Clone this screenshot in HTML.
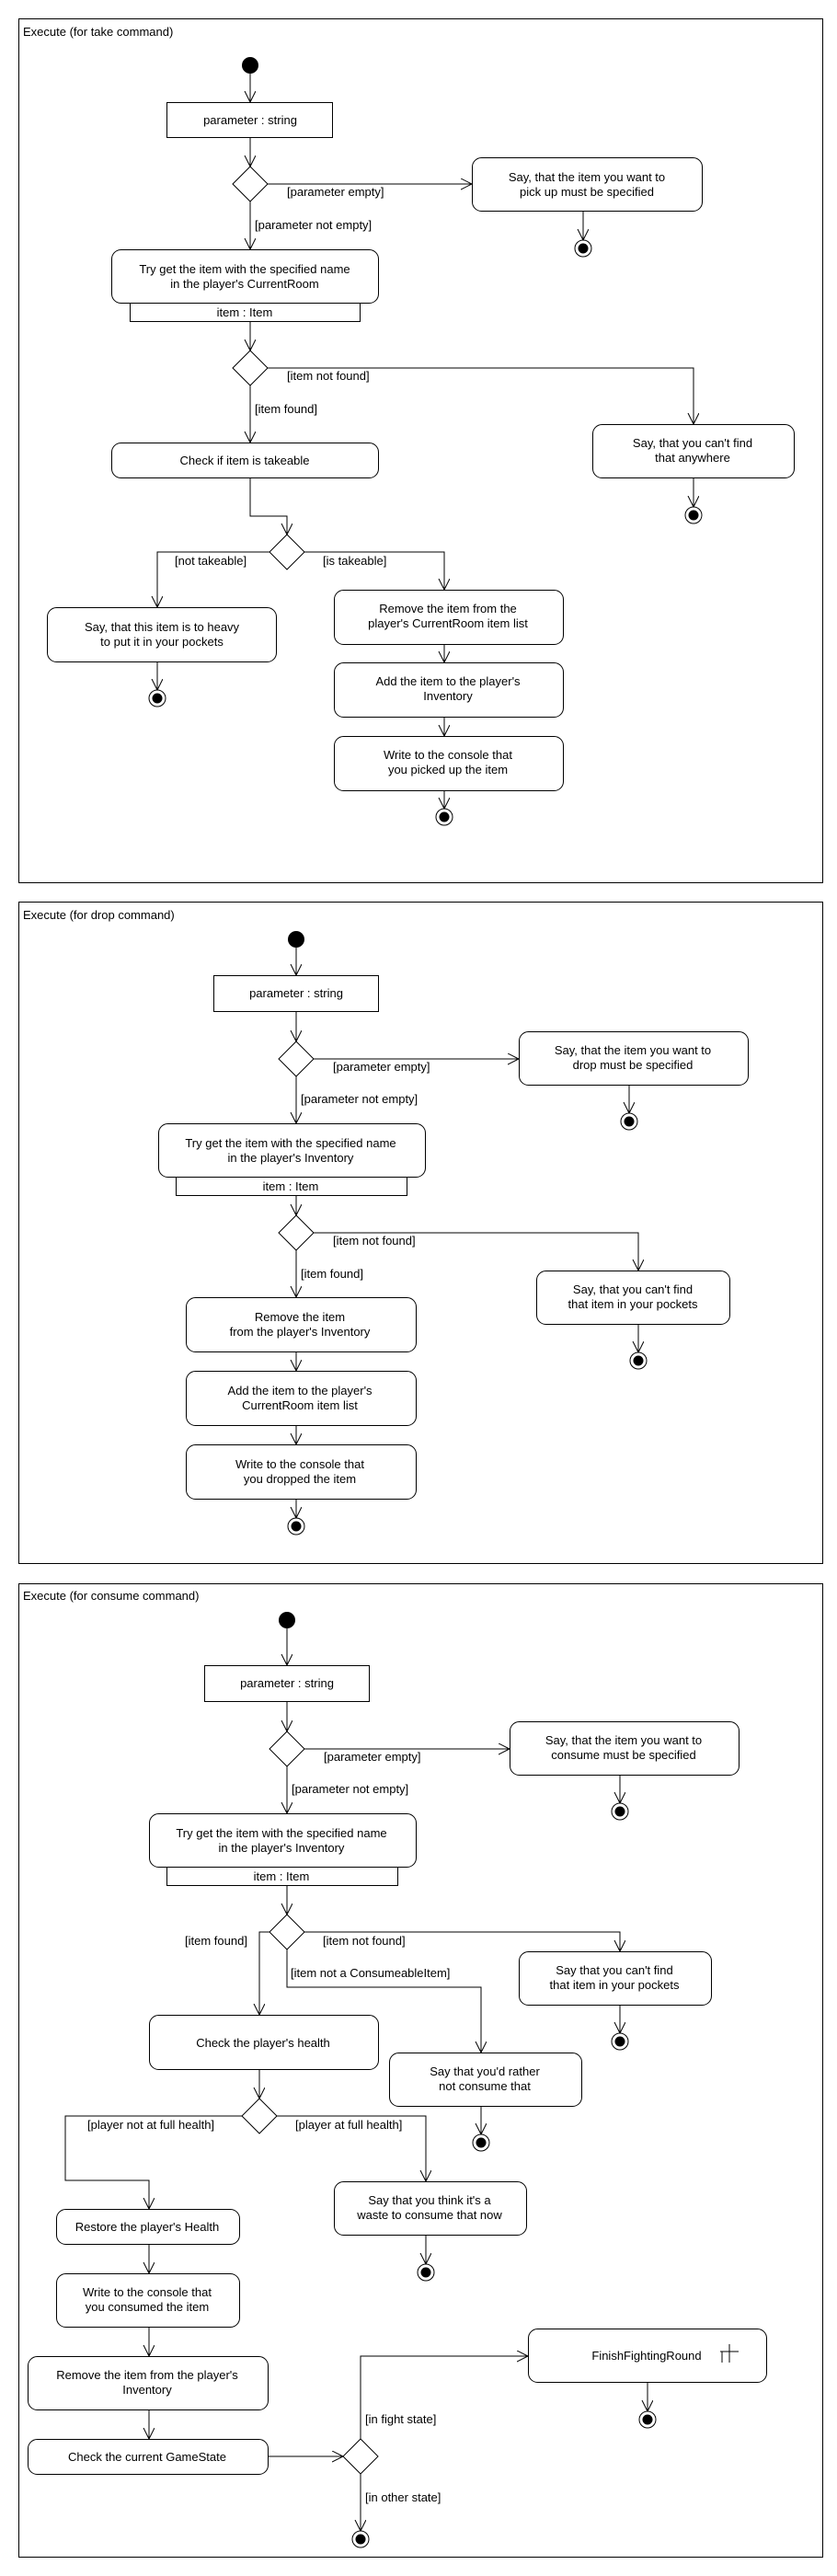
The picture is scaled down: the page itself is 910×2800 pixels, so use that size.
<!DOCTYPE html>
<html><head><meta charset="utf-8"><style>
html,body{margin:0;padding:0;background:#fff}
svg{display:block}
text{font-family:"Liberation Sans",Arial,sans-serif;font-size:13px;fill:#000}
.c{text-anchor:middle}
.s{fill:none;stroke:#000;stroke-width:1}
</style></head><body>
<svg width="910" height="2800" viewBox="0 0 910 2800" xmlns="http://www.w3.org/2000/svg">
<defs>
<marker id="a" markerUnits="userSpaceOnUse" markerWidth="14" markerHeight="14" refX="12" refY="6" orient="auto">
<path d="M0,0 L12,6 L0,12" fill="none" stroke="#000" stroke-width="1"/>
</marker>
</defs>
<g class="s">
<!-- Frame 1 -->
<rect x="20.5" y="20.5" width="874" height="939"/>
<line x1="272" y1="80" x2="272" y2="111" marker-end="url(#a)"/>
<rect x="181.5" y="111.5" width="180" height="38"/>
<line x1="272" y1="149" x2="272" y2="181" marker-end="url(#a)"/>
<path d="M272,181 L291,200 L272,219 L253,200 Z"/>
<line x1="291" y1="200" x2="513" y2="200" marker-end="url(#a)"/>
<rect x="513.5" y="171.5" width="250" height="58" rx="10"/>
<line x1="634" y1="229" x2="634" y2="261" marker-end="url(#a)"/>
<line x1="272" y1="219" x2="272" y2="271" marker-end="url(#a)"/>
<rect x="121.5" y="271.5" width="290" height="58" rx="10"/>
<rect x="141.5" y="329.5" width="250" height="20"/>
<line x1="272" y1="349" x2="272" y2="381" marker-end="url(#a)"/>
<path d="M272,381 L291,400 L272,419 L253,400 Z"/>
<polyline points="291,400 754,400 754,461" marker-end="url(#a)"/>
<line x1="272" y1="419" x2="272" y2="481" marker-end="url(#a)"/>
<rect x="121.5" y="481.5" width="290" height="38" rx="10"/>
<rect x="644.5" y="461.5" width="219" height="58" rx="10"/>
<line x1="754" y1="519" x2="754" y2="551" marker-end="url(#a)"/>
<polyline points="272,519 272,561 312,561 312,581" marker-end="url(#a)"/>
<path d="M312,581 L331,600 L312,619 L293,600 Z"/>
<polyline points="293,600 171,600 171,660" marker-end="url(#a)"/>
<rect x="51.5" y="660.5" width="249" height="59" rx="10"/>
<line x1="171" y1="719" x2="171" y2="750" marker-end="url(#a)"/>
<polyline points="331,600 483,600 483,641" marker-end="url(#a)"/>
<rect x="363.5" y="641.5" width="249" height="59" rx="10"/>
<line x1="483" y1="700" x2="483" y2="720" marker-end="url(#a)"/>
<rect x="363.5" y="720.5" width="249" height="59" rx="10"/>
<line x1="483" y1="779" x2="483" y2="800" marker-end="url(#a)"/>
<rect x="363.5" y="800.5" width="249" height="59" rx="10"/>
<line x1="483" y1="859" x2="483" y2="879" marker-end="url(#a)"/>

<!-- Frame 2 -->
<rect x="20.5" y="980.5" width="874" height="719"/>
<line x1="322" y1="1030" x2="322" y2="1060" marker-end="url(#a)"/>
<rect x="232.5" y="1060.5" width="179" height="39"/>
<line x1="322" y1="1099" x2="322" y2="1132" marker-end="url(#a)"/>
<path d="M322,1132 L341,1151 L322,1170 L303,1151 Z"/>
<line x1="341" y1="1151" x2="564" y2="1151" marker-end="url(#a)"/>
<rect x="564.5" y="1121.5" width="249" height="58" rx="10"/>
<line x1="684" y1="1179" x2="684" y2="1210" marker-end="url(#a)"/>
<line x1="322" y1="1170" x2="322" y2="1221" marker-end="url(#a)"/>
<rect x="172.5" y="1221.5" width="290" height="58" rx="10"/>
<rect x="191.5" y="1279.5" width="251" height="20"/>
<line x1="322" y1="1299" x2="322" y2="1321" marker-end="url(#a)"/>
<path d="M322,1321 L341,1340 L322,1359 L303,1340 Z"/>
<polyline points="341,1340 694,1340 694,1381" marker-end="url(#a)"/>
<line x1="322" y1="1359" x2="322" y2="1410" marker-end="url(#a)"/>
<rect x="583.5" y="1381.5" width="210" height="58" rx="10"/>
<line x1="694" y1="1439" x2="694" y2="1470" marker-end="url(#a)"/>
<rect x="202.5" y="1410.5" width="250" height="59" rx="10"/>
<line x1="322" y1="1469" x2="322" y2="1490" marker-end="url(#a)"/>
<rect x="202.5" y="1490.5" width="250" height="59" rx="10"/>
<line x1="322" y1="1549" x2="322" y2="1570" marker-end="url(#a)"/>
<rect x="202.5" y="1570.5" width="250" height="59" rx="10"/>
<line x1="322" y1="1629" x2="322" y2="1650" marker-end="url(#a)"/>

<!-- Frame 3 -->
<rect x="20.5" y="1721.5" width="874" height="1058"/>
<line x1="312" y1="1770" x2="312" y2="1810" marker-end="url(#a)"/>
<rect x="222.5" y="1810.5" width="179" height="39"/>
<line x1="312" y1="1849" x2="312" y2="1882" marker-end="url(#a)"/>
<path d="M312,1882 L331,1901 L312,1920 L293,1901 Z"/>
<line x1="331" y1="1901" x2="554" y2="1901" marker-end="url(#a)"/>
<rect x="554.5" y="1871.5" width="249" height="58" rx="10"/>
<line x1="674" y1="1929" x2="674" y2="1960" marker-end="url(#a)"/>
<line x1="312" y1="1920" x2="312" y2="1971" marker-end="url(#a)"/>
<rect x="162.5" y="1971.5" width="290" height="58" rx="10"/>
<rect x="181.5" y="2029.5" width="251" height="20"/>
<line x1="312" y1="2049" x2="312" y2="2081" marker-end="url(#a)"/>
<path d="M312,2081 L331,2100 L312,2119 L293,2100 Z"/>
<polyline points="293,2100 282,2100 282,2190" marker-end="url(#a)"/>
<polyline points="331,2100 674,2100 674,2121" marker-end="url(#a)"/>
<polyline points="312,2119 312,2160 523,2160 523,2231" marker-end="url(#a)"/>
<rect x="564.5" y="2121.5" width="209" height="58" rx="10"/>
<line x1="674" y1="2179" x2="674" y2="2210" marker-end="url(#a)"/>
<rect x="162.5" y="2190.5" width="249" height="59" rx="10"/>
<line x1="282" y1="2249" x2="282" y2="2281" marker-end="url(#a)"/>
<path d="M282,2281 L301,2300 L282,2319 L263,2300 Z"/>
<rect x="423.5" y="2231.5" width="209" height="58" rx="10"/>
<line x1="523" y1="2289" x2="523" y2="2320" marker-end="url(#a)"/>
<polyline points="263,2300 71,2300 71,2370 162,2370 162,2401" marker-end="url(#a)"/>
<polyline points="301,2300 463,2300 463,2371" marker-end="url(#a)"/>
<rect x="363.5" y="2371.5" width="209" height="58" rx="10"/>
<line x1="463" y1="2429" x2="463" y2="2461" marker-end="url(#a)"/>
<rect x="61.5" y="2401.5" width="199" height="38" rx="10"/>
<line x1="162" y1="2439" x2="162" y2="2471" marker-end="url(#a)"/>
<rect x="61.5" y="2471.5" width="199" height="58" rx="10"/>
<line x1="162" y1="2529" x2="162" y2="2561" marker-end="url(#a)"/>
<rect x="30.5" y="2561.5" width="261" height="58" rx="10"/>
<line x1="162" y1="2619" x2="162" y2="2651" marker-end="url(#a)"/>
<rect x="30.5" y="2651.5" width="261" height="38" rx="10"/>
<line x1="291" y1="2670" x2="373" y2="2670" marker-end="url(#a)"/>
<path d="M392,2651 L411,2670 L392,2689 L373,2670 Z"/>
<polyline points="392,2651 392,2561 574,2561" marker-end="url(#a)"/>
<rect x="574.5" y="2531.5" width="259" height="58" rx="10"/>
<path d="M783,2556 L803,2556 M793,2548 L793,2568 M785,2556 L785,2568"/>
<line x1="704" y1="2589" x2="704" y2="2621" marker-end="url(#a)"/>
<line x1="392" y1="2689" x2="392" y2="2751" marker-end="url(#a)"/>
</g>

<!-- start nodes -->
<circle cx="272" cy="71" r="9" fill="#000"/>
<circle cx="322" cy="1021" r="9" fill="#000"/>
<circle cx="312" cy="1761" r="9" fill="#000"/>
<!-- end nodes -->
<g>
<circle cx="634" cy="270" r="9" fill="#fff" stroke="#000"/><circle cx="634" cy="270" r="5.5"/>
<circle cx="754" cy="560" r="9" fill="#fff" stroke="#000"/><circle cx="754" cy="560" r="5.5"/>
<circle cx="171" cy="759" r="9" fill="#fff" stroke="#000"/><circle cx="171" cy="759" r="5.5"/>
<circle cx="483" cy="888" r="9" fill="#fff" stroke="#000"/><circle cx="483" cy="888" r="5.5"/>
<circle cx="684" cy="1219" r="9" fill="#fff" stroke="#000"/><circle cx="684" cy="1219" r="5.5"/>
<circle cx="694" cy="1479" r="9" fill="#fff" stroke="#000"/><circle cx="694" cy="1479" r="5.5"/>
<circle cx="322" cy="1659" r="9" fill="#fff" stroke="#000"/><circle cx="322" cy="1659" r="5.5"/>
<circle cx="674" cy="1969" r="9" fill="#fff" stroke="#000"/><circle cx="674" cy="1969" r="5.5"/>
<circle cx="674" cy="2219" r="9" fill="#fff" stroke="#000"/><circle cx="674" cy="2219" r="5.5"/>
<circle cx="523" cy="2329" r="9" fill="#fff" stroke="#000"/><circle cx="523" cy="2329" r="5.5"/>
<circle cx="463" cy="2470" r="9" fill="#fff" stroke="#000"/><circle cx="463" cy="2470" r="5.5"/>
<circle cx="704" cy="2630" r="9" fill="#fff" stroke="#000"/><circle cx="704" cy="2630" r="5.5"/>
<circle cx="392" cy="2760" r="9" fill="#fff" stroke="#000"/><circle cx="392" cy="2760" r="5.5"/>
</g>

<!-- Text frame 1 -->
<text x="25" y="39">Execute (for take command)</text>
<text class="c" x="272" y="135">parameter : string</text>
<text x="312" y="213">[parameter empty]</text>
<text class="c" x="638" y="197">Say, that the item you want to</text>
<text class="c" x="638" y="213">pick up must be specified</text>
<text x="277" y="249">[parameter not empty]</text>
<text class="c" x="266" y="297">Try get the item with the specified name</text>
<text class="c" x="266" y="313">in the player's CurrentRoom</text>
<text class="c" x="266" y="344">item : Item</text>
<text x="312" y="413">[item not found]</text>
<text x="277" y="449">[item found]</text>
<text class="c" x="266" y="505">Check if item is takeable</text>
<text class="c" x="753" y="486">Say, that you can't find</text>
<text class="c" x="753" y="502">that anywhere</text>
<text x="190" y="614">[not takeable]</text>
<text x="351" y="614">[is takeable]</text>
<text class="c" x="176" y="686">Say, that this item is to heavy</text>
<text class="c" x="176" y="702">to put it in your pockets</text>
<text class="c" x="487" y="666">Remove the item from the</text>
<text class="c" x="487" y="682">player's CurrentRoom item list</text>
<text class="c" x="487" y="745">Add the item to the player's</text>
<text class="c" x="487" y="761">Inventory</text>
<text class="c" x="487" y="825">Write to the console that</text>
<text class="c" x="487" y="841">you picked up the item</text>

<!-- Text frame 2 -->
<text x="25" y="999">Execute (for drop command)</text>
<text class="c" x="322" y="1084">parameter : string</text>
<text x="362" y="1164">[parameter empty]</text>
<text class="c" x="688" y="1146">Say, that the item you want to</text>
<text class="c" x="688" y="1162">drop must be specified</text>
<text x="327" y="1199">[parameter not empty]</text>
<text class="c" x="316" y="1247">Try get the item with the specified name</text>
<text class="c" x="316" y="1263">in the player's Inventory</text>
<text class="c" x="316" y="1294">item : Item</text>
<text x="362" y="1353">[item not found]</text>
<text x="327" y="1389">[item found]</text>
<text class="c" x="688" y="1406">Say, that you can't find</text>
<text class="c" x="688" y="1422">that item in your pockets</text>
<text class="c" x="326" y="1436">Remove the item</text>
<text class="c" x="326" y="1452">from the player's Inventory</text>
<text class="c" x="326" y="1516">Add the item to the player's</text>
<text class="c" x="326" y="1532">CurrentRoom item list</text>
<text class="c" x="326" y="1596">Write to the console that</text>
<text class="c" x="326" y="1612">you dropped the item</text>

<!-- Text frame 3 -->
<text x="25" y="1739">Execute (for consume command)</text>
<text class="c" x="312" y="1834">parameter : string</text>
<text x="352" y="1914">[parameter empty]</text>
<text class="c" x="678" y="1896">Say, that the item you want to</text>
<text class="c" x="678" y="1912">consume must be specified</text>
<text x="317" y="1949">[parameter not empty]</text>
<text class="c" x="306" y="1997">Try get the item with the specified name</text>
<text class="c" x="306" y="2013">in the player's Inventory</text>
<text class="c" x="306" y="2044">item : Item</text>
<text x="201" y="2114">[item found]</text>
<text x="351" y="2114">[item not found]</text>
<text x="316" y="2149">[item not a ConsumeableItem]</text>
<text class="c" x="668" y="2146">Say that you can't find</text>
<text class="c" x="668" y="2162">that item in your pockets</text>
<text class="c" x="286" y="2225">Check the player's health</text>
<text class="c" x="527" y="2256">Say that you'd rather</text>
<text class="c" x="527" y="2272">not consume that</text>
<text x="95" y="2314">[player not at full health]</text>
<text x="321" y="2314">[player at full health]</text>
<text class="c" x="467" y="2396">Say that you think it's a</text>
<text class="c" x="467" y="2412">waste to consume that now</text>
<text class="c" x="160" y="2425">Restore the player's Health</text>
<text class="c" x="160" y="2496">Write to the console that</text>
<text class="c" x="160" y="2512">you consumed the item</text>
<text class="c" x="160" y="2586">Remove the item from the player's</text>
<text class="c" x="160" y="2602">Inventory</text>
<text class="c" x="160" y="2675">Check the current GameState</text>
<text x="397" y="2634">[in fight state]</text>
<text class="c" x="703" y="2565">FinishFightingRound</text>
<text x="397" y="2719">[in other state]</text>
</svg>
</body></html>
